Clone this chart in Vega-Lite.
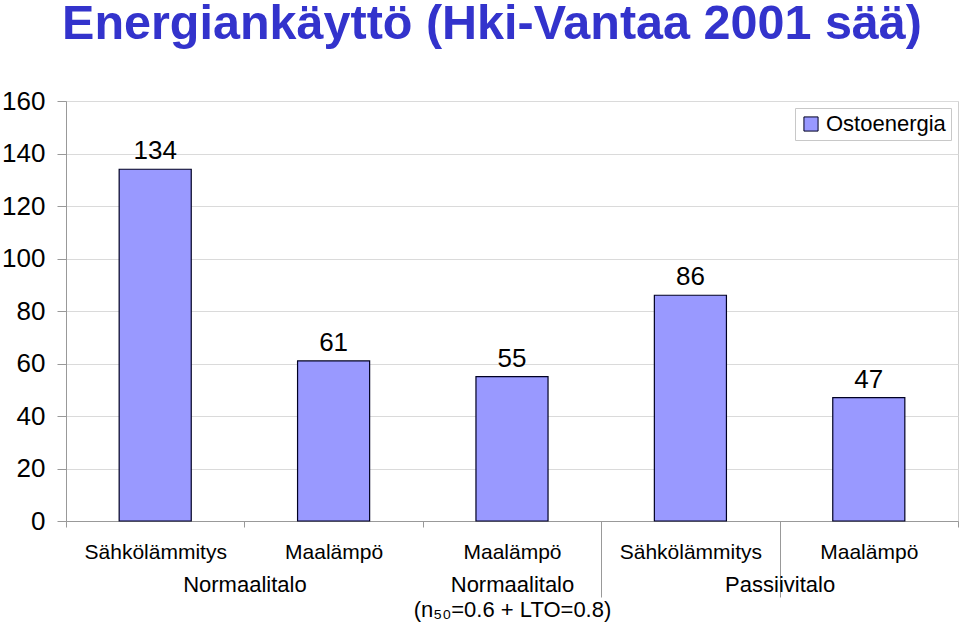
{
  "$schema": "https://vega.github.io/schema/vega-lite/v6.json",
  "width": 892,
  "height": 420,
  "autosize": {"type": "none"},
  "padding": {"left": 66, "top": 101, "right": 2, "bottom": 104},
  "background": "white",
  "title": {
    "text": "Energiankäyttö (Hki-Vantaa 2001 sää)",
    "font": "Liberation Sans",
    "fontSize": 48.5,
    "fontWeight": "bold",
    "color": "#3333CC",
    "anchor": "middle",
    "frame": "group",
    "baseline": "alphabetic",
    "dx": -20,
    "offset": 1
  },
  "config": {
    "font": "Liberation Sans",
    "view": {"stroke": "#cfcfcf"}
  },
  "data": {
    "values": [
      {"talo": "Normaalitalo", "lammitys": "Sähkölämmitys", "kohde": "Normaalitalo / Sähkölämmitys", "ostoenergia": 134},
      {"talo": "Normaalitalo", "lammitys": "Maalämpö", "kohde": "Normaalitalo / Maalämpö", "ostoenergia": 61},
      {"talo": "Normaalitalo (n₅₀=0.6 + LTO=0.8)", "lammitys": "Maalämpö", "kohde": "Normaalitalo (n₅₀=0.6 + LTO=0.8) / Maalämpö", "ostoenergia": 55},
      {"talo": "Passiivitalo", "lammitys": "Sähkölämmitys", "kohde": "Passiivitalo / Sähkölämmitys", "ostoenergia": 86},
      {"talo": "Passiivitalo", "lammitys": "Maalämpö", "kohde": "Passiivitalo / Maalämpö", "ostoenergia": 47}
    ]
  },
  "layer": [
    {
      "encoding": {
        "x": {
          "field": "kohde",
          "type": "nominal",
          "sort": null,
          "scale": {"paddingInner": 0, "paddingOuter": 0},
          "axis": {
            "title": null,
            "labelExpr": "split(datum.label, ' / ')[1]",
            "labelFontSize": 21,
            "labelColor": "black",
            "labelAngle": 0,
            "labelOverlap": false,
            "labelLimit": 400,
            "labelPadding": {
              "condition": {"test": "datum.value === 'Normaalitalo (n₅₀=0.6 + LTO=0.8) / Maalämpö' || datum.value === 'Passiivitalo / Sähkölämmitys'", "value": -56},
              "value": 14
            },
            "tickBand": "extent",
            "tickColor": "#999999",
            "domainColor": "#999999",
            "tickSize": {
              "condition": {"test": "datum.value === 'Normaalitalo (n₅₀=0.6 + LTO=0.8) / Maalämpö' || datum.value === 'Passiivitalo / Sähkölämmitys'", "value": 76},
              "value": 6
            },
            "grid": false
          }
        },
        "y": {
          "field": "ostoenergia",
          "type": "quantitative",
          "scale": {"domain": [0, 160]},
          "axis": {
            "title": null,
            "values": [0, 20, 40, 60, 80, 100, 120, 140, 160],
            "labelFontSize": 26,
            "labelColor": "black",
            "labelPadding": 12,
            "tickSize": 9,
            "tickColor": "#999999",
            "domainColor": "#999999",
            "grid": true,
            "gridColor": "#dadada"
          }
        }
      },
      "layer": [
        {
          "mark": {"type": "bar", "width": {"band": 0.404}, "stroke": "#000022", "strokeWidth": 1.2},
          "encoding": {
            "color": {
              "datum": "Ostoenergia",
              "type": "nominal",
              "scale": {"range": ["#9999FF"]},
              "legend": {
                "title": null,
                "orient": "top-right",
                "offset": 7,
                "labelFont": "Liberation Sans",
                "labelFontSize": 22,
                "labelColor": "black",
                "labelOffset": 4,
                "symbolType": "square",
                "symbolSize": 200,
                "symbolStrokeColor": "#000022",
                "symbolStrokeWidth": 1,
                "symbolOpacity": 1,
                "strokeColor": "#c8c8c8",
                "fillColor": "white",
                "padding": 5
              }
            }
          }
        },
        {
          "mark": {"type": "text", "baseline": "alphabetic", "dy": -10, "fontSize": 26, "color": "black"},
          "encoding": {
            "text": {"field": "ostoenergia", "type": "quantitative"}
          }
        }
      ]
    },
    {
      "mark": {"type": "point", "opacity": 0},
      "encoding": {
        "x": {
          "field": "talo",
          "type": "nominal",
          "sort": null,
          "scale": {"type": "point", "padding": 0.6667},
          "axis": {
            "title": null,
            "orient": "bottom",
            "offset": 53,
            "domain": false,
            "ticks": false,
            "grid": false,
            "labelPadding": 0,
            "labelAngle": 0,
            "labelOverlap": false,
            "labelLimit": 400,
            "labelFontSize": 22,
            "labelColor": "black",
            "labelLineHeight": 25,
            "labelExpr": "indexof(datum.label, ' (') > 0 ? [split(datum.label, ' (')[0], '(' + split(datum.label, ' (')[1]] : datum.label"
          }
        },
        "y": {"field": "ostoenergia", "type": "quantitative"}
      }
    }
  ],
  "resolve": {"scale": {"x": "independent"}, "axis": {"x": "independent"}}
}
